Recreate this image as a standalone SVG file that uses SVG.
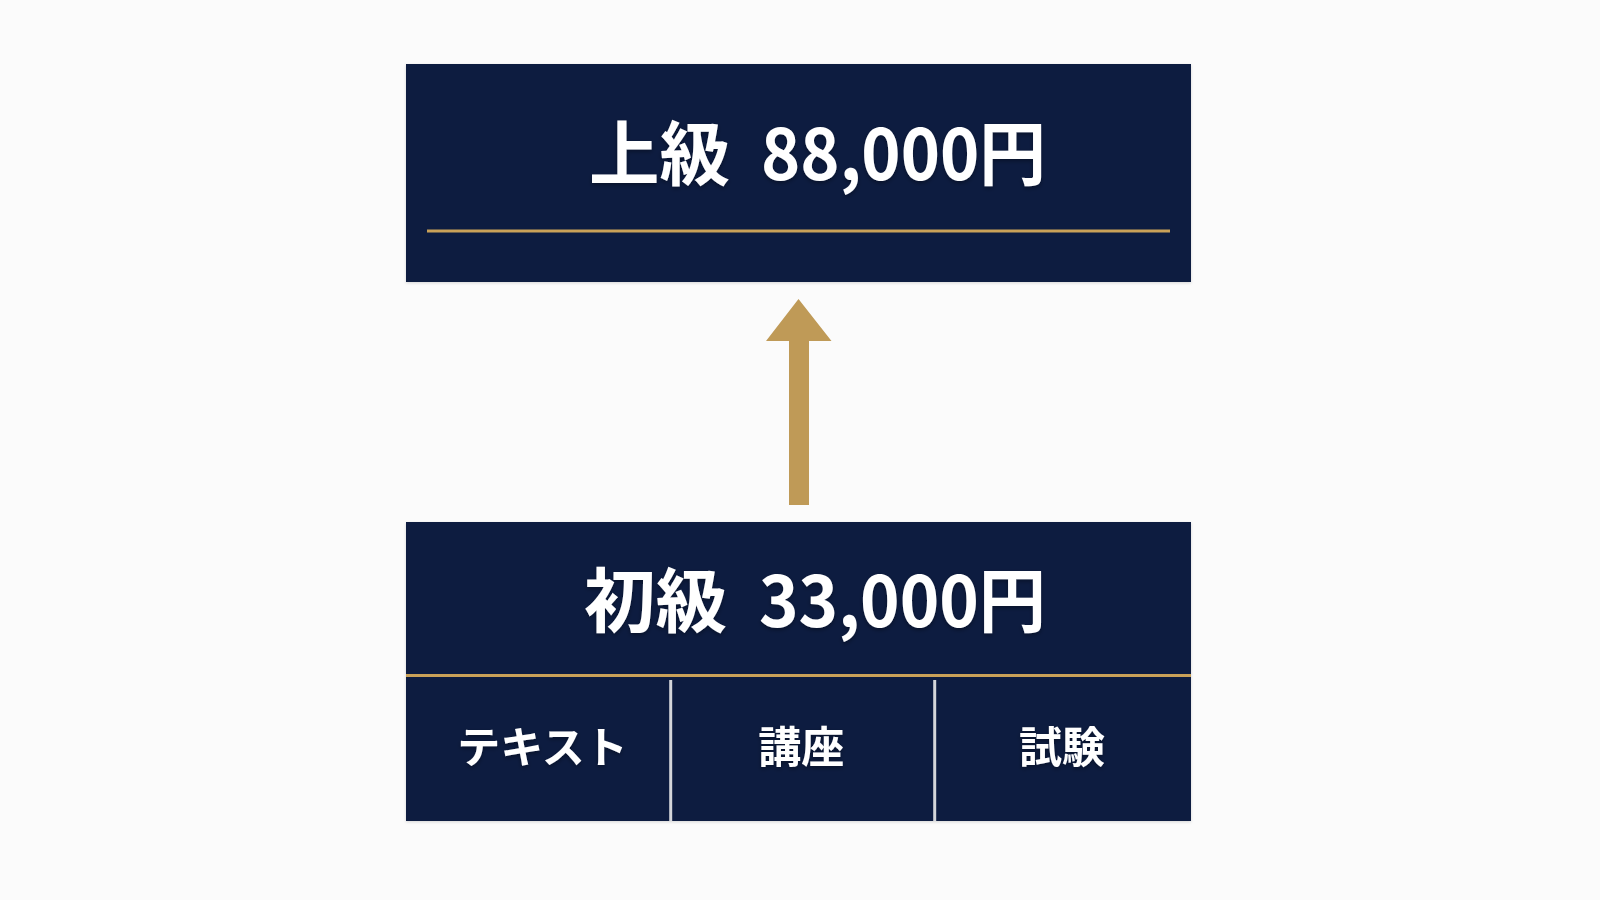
<svg xmlns="http://www.w3.org/2000/svg" width="1600" height="900" viewBox="0 0 1600 900">
  <style>
    .box { fill: #0e1e3f; }
    .gold { stroke: #c9a158; stroke-width: 3; }
    .divider { stroke: #d4d6da; stroke-width: 3; }
    .title { font-family: "Noto Sans CJK JP", "Noto Sans", sans-serif; font-weight: 700; font-size: 70px; fill: #ffffff; }
    .label { font-family: "Noto Sans CJK JP", "Noto Sans", sans-serif; font-weight: 700; font-size: 43px; fill: #ffffff; text-anchor: middle; }
    .arrow { fill: #bf9a57; }
  </style>
  <defs>
    <filter id="txtShadow" x="-10%" y="-20%" width="120%" height="140%">
      <feDropShadow dx="0" dy="2" stdDeviation="2" flood-color="#000000" flood-opacity="0.35"/>
    </filter>
    <filter id="boxShadow" x="-5%" y="-5%" width="110%" height="110%">
      <feDropShadow dx="0" dy="1" stdDeviation="1.5" flood-color="#000000" flood-opacity="0.15"/>
    </filter>
  </defs>
  <rect x="0" y="0" width="1600" height="900" fill="#fbfbfb"/>

  <g id="connectors">
    <polygon class="arrow" points="798.5,299 831.5,341 809,341 809,505 789,505 789,341 766,341"/>
  </g>

  <g id="node-advanced">
    <rect class="box" x="406" y="64" width="785" height="218" filter="url(#boxShadow)"/>
    <text class="title" y="180" filter="url(#txtShadow)"><tspan x="589" textLength="141" lengthAdjust="spacingAndGlyphs">上級</tspan> <tspan x="761" textLength="285" lengthAdjust="spacingAndGlyphs">88,000円</tspan></text>
    <line class="gold" x1="427" y1="231" x2="1170" y2="231"/>
  </g>

  <g id="node-beginner">
    <rect class="box" x="406" y="522" width="785" height="299" filter="url(#boxShadow)"/>
    <text class="title" y="627" filter="url(#txtShadow)"><tspan x="584" textLength="143" lengthAdjust="spacingAndGlyphs">初級</tspan> <tspan x="759" textLength="287" lengthAdjust="spacingAndGlyphs">33,000円</tspan></text>
    <line class="gold" x1="406" y1="675.5" x2="1191" y2="675.5"/>
    <line class="divider" x1="670.7" y1="680" x2="670.7" y2="821"/>
    <line class="divider" x1="934.7" y1="680" x2="934.7" y2="821"/>
    <g id="cell-text">
      <text class="label" x="542.5" y="763" filter="url(#txtShadow)">テキスト</text>
    </g>
    <g id="cell-lecture">
      <text class="label" x="801.2" y="763" filter="url(#txtShadow)">講座</text>
    </g>
    <g id="cell-exam">
      <text class="label" x="1062" y="763" filter="url(#txtShadow)">試験</text>
    </g>
  </g>
</svg>
